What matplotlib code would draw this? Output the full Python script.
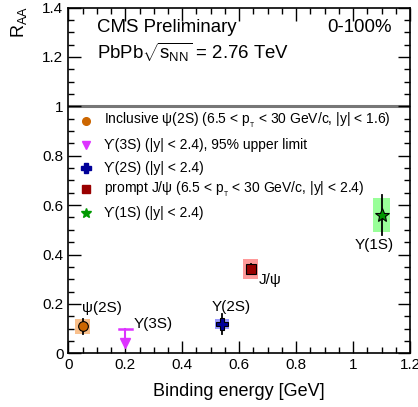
import matplotlib
matplotlib.use("Agg")
import matplotlib.pyplot as plt
from matplotlib.patches import Rectangle
from matplotlib.ticker import MultipleLocator

plt.rcParams['font.family'] = ['Liberation Sans', 'DejaVu Sans']
plt.rcParams['mathtext.fontset'] = 'custom'
plt.rcParams['mathtext.rm'] = 'Liberation Sans'
plt.rcParams['mathtext.it'] = 'Liberation Sans'

# data
names = ["psi2S", "Y3S", "Y2S", "Jpsi", "Y1S"]
legend_labels = [
    r"Inclusive ψ(2S) (6.5 < p$_{_{\rm T}}$ < 30 GeV/c, |y| < 1.6)",
    r"ϒ(3S) (|y| < 2.4), 95% upper limit",
    r"ϒ(2S) (|y| < 2.4)",
    r"prompt J/ψ (6.5 < p$_{_{\rm T}}$ < 30 GeV/c, |y| < 2.4)",
    r"ϒ(1S) (|y| < 2.4)",
]
point_labels = ["ψ(2S)", "Υ(3S)", "Υ(2S)", "J/ψ", "Υ(1S)"]
binding = [0.05, 0.20, 0.54, 0.64, 1.10]
raa = [0.11, 0.10, 0.12, 0.34, 0.56]
stat_lo = [0.03, 0.0, 0.04, 0.02, 0.08]
stat_hi = [0.03, 0.0, 0.04, 0.02, 0.08]
syst = [0.03, 0.0, 0.02, 0.04, 0.07]
box_halfwidth = [0.025, 0.0, 0.025, 0.025, 0.03]
colors = ["#cc6600", "#dd33ff", "#000099", "#990000", "#009900"]
box_colors = ["#f9c08c", "#ffffff", "#9999ff", "#ff9999", "#99ff99"]
markers = ["o", "v", "P", "s", "*"]
upper_limit_low = 0.03
xticks = [0, 0.2, 0.4, 0.6, 0.8, 1.0, 1.2]
xticklabels = ["0", "0.2", "0.4", "0.6", "0.8", "1", "1.2"]
yticks = [0, 0.2, 0.4, 0.6, 0.8, 1.0, 1.2, 1.4]
yticklabels = ["0", "0.2", "0.4", "0.6", "0.8", "1", "1.2", "1.4"]

fig = plt.figure(figsize=(4.18, 4.07), dpi=100)
ax = fig.add_axes([0.1634, 0.132, 0.8176, 0.8493])

ax.axhline(1.0, color="#777777", lw=2.2, zorder=1)

for i in range(len(names)):
    x, y = binding[i], raa[i]
    if names[i] == "Y3S":
        ax.plot([x, x], [upper_limit_low + 0.01, y], color=colors[i], lw=1.5, zorder=3)
        ax.plot([x - 0.022, x + 0.022], [y, y], color=colors[i], lw=1.8, zorder=3)
        ax.plot([x], [upper_limit_low + 0.012], marker="v", color=colors[i], ms=7, mec=colors[i], zorder=4)
        continue
    w = box_halfwidth[i]
    ax.add_patch(Rectangle((x - w, y - syst[i]), 2 * w, 2 * syst[i],
                           facecolor=box_colors[i], edgecolor="none", zorder=2))
    ax.plot([x, x], [y - stat_lo[i], y + stat_hi[i]], color="black", lw=1.3, zorder=3)
    ms = {"o": 7, "P": 9, "s": 6.5, "*": 10}[markers[i]]
    ax.plot([x], [y], marker=markers[i], color=colors[i], mec="black", mew=0.8, ms=ms, zorder=4)

# point labels
lbl_pos = [(0.047, 0.183), (0.231, 0.119), (0.504, 0.189), (0.667, 0.297), (1.007, 0.439)]
for (lx, ly), t in zip(lbl_pos, point_labels):
    ax.text(lx, ly, t, fontsize=11, ha="left", va="center")

# legend
leg_y = [(353.3 - p) / 246.9 for p in (120.7, 145, 168, 189, 213)]
for i in range(len(names)):
    ms = {"o": 5.5, "v": 5.5, "P": 7.5, "s": 6, "*": 7}[markers[i]]
    ax.plot([0.062], [leg_y[i]], marker=markers[i], color=colors[i], mec=colors[i], ms=ms,
            clip_on=False, zorder=5)
    ax.text(0.126, leg_y[i], legend_labels[i], fontsize=10, va="center", ha="left")

ax.text(0.1, 1.32, "CMS Preliminary", fontsize=13.4, va="center", ha="left")
ax.text(1.136, 1.32, "0-100%", fontsize=13.4, va="center", ha="right")
ax.text(0.1, 1.22, r"PbPb$\sqrt{s_{\rm NN}}$ = 2.76 TeV", fontsize=13.4, va="center", ha="left")

ax.set_xticks(xticks)
ax.set_xticklabels(xticklabels)
ax.set_yticks(yticks)
ax.set_yticklabels(yticklabels)
ax.xaxis.set_minor_locator(MultipleLocator(0.05))
ax.yaxis.set_minor_locator(MultipleLocator(0.05))
ax.set_xlim(0, 1.2)
ax.set_ylim(0, 1.4)
ax.tick_params(which="both", direction="in", top=True, right=True, labelsize=11)
ax.tick_params(which="major", length=9, width=1)
ax.tick_params(which="minor", length=4.5, width=1)
for s in ax.spines.values():
    s.set_linewidth(1.2)

ax.set_xlabel("Binding energy [GeV]", fontsize=13, labelpad=8)
fig.text(0.045, 0.985, r"R$_{\rm AA}$", rotation=90, fontsize=13, ha="center", va="top")

fig.savefig("out.png", dpi=100)
